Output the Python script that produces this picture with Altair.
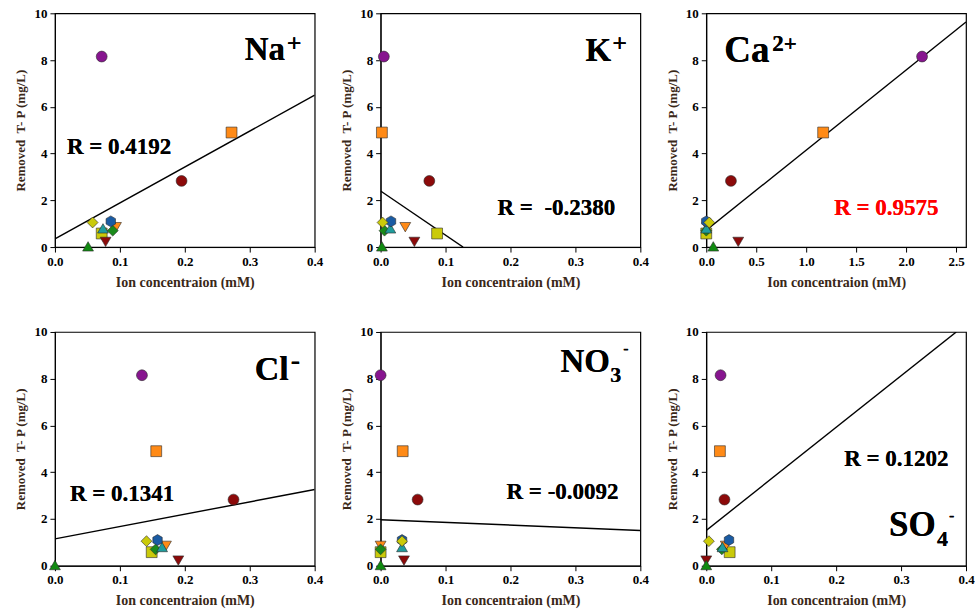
import altair as alt
import pandas as pd

# ---------------- data ----------------
samples = ["S9", "S6", "S8", "S7", "S5", "S4", "S10", "S11", "S3", "S2", "S1"]
tp_removed = [0.58, 0.85, 0.70, 0.80, 1.10, 1.05, 0.22, 0.03, 2.83, 4.90, 8.15]

na_conc = [0.072, 0.094, 0.089, 0.074, 0.086, 0.058, 0.078, 0.051, 0.195, 0.272, 0.072]
k_conc = [0.087, 0.038, 0.006, 0.015, 0.016, 0.003, 0.052, 0.002, 0.075, 0.002, 0.005]
ca_conc = [0.00, 0.01, 0.00, 0.00, 0.00, 0.03, 0.32, 0.07, 0.247, 1.17, 2.16]
cl_conc = [0.149, 0.171, 0.155, 0.165, 0.158, 0.141, 0.190, 0.000, 0.275, 0.156, 0.134]
no3_conc = [0.000, 0.000, 0.000, 0.033, 0.033, 0.033, 0.036, 0.000, 0.057, 0.034, 0.000]
so4_conc = [0.036, 0.030, 0.024, 0.025, 0.035, 0.004, 0.000, 0.000, 0.028, 0.021, 0.022]

# regression lines (endpoints)
na_line_x, na_line_y = [0.0, 0.4], [0.35, 6.5]
k_line_x, k_line_y = [0.0, 0.127], [2.4, 0.0]
ca_line_x, ca_line_y = [0.0, 2.6], [0.72, 9.63]
cl_line_x, cl_line_y = [0.0, 0.4], [1.15, 3.26]
no3_line_x, no3_line_y = [0.0, 0.4], [1.97, 1.51]
so4_line_x, so4_line_y = [0.0, 0.385], [1.51, 10.0]

r_labels = ["R = 0.4192", "R =\u00a0 -0.2380", "R = 0.9575",
            "R = 0.1341", "R = -0.0092", "R = 0.1202"]

x_ticks_small = [0.0, 0.1, 0.2, 0.3, 0.4]
x_ticks_ca = [0.0, 0.5, 1.0, 1.5, 2.0, 2.5]
y_ticks = [0, 2, 4, 6, 8, 10]

# ---------------- styles ----------------
hexagon = "M0,-1L0.866,-0.5L0.866,0.5L0,1L-0.866,0.5L-0.866,-0.5Z"
shape_of = {"S1": "circle", "S2": "square", "S3": "circle", "S4": "diamond",
            "S5": hexagon, "S6": "triangle-down", "S7": "triangle-up",
            "S8": "diamond", "S9": "square", "S10": "triangle-down",
            "S11": "triangle-up"}
color_of = {"S1": "#87158f", "S2": "#ff8a16", "S3": "#8c0a0a", "S4": "#caca0a",
            "S5": "#1a5ba3", "S6": "#ff8a16", "S7": "#1f9c9c", "S8": "#1a8a1a",
            "S9": "#caca0a", "S10": "#8c0a0a", "S11": "#108a10"}

FONT = "Liberation Serif"
TITLE_COLOR = "#3a2818"
W, H = 260, 234


def panel(xvals, line_x, line_y, xdomain, xticks, rlabel, rpos, rcolor, ion_parts):
    pts_df = pd.DataFrame({"x": xvals, "y": tp_removed, "s": samples})
    line_df = pd.DataFrame({"x": line_x, "y": line_y})
    xscale = alt.Scale(domain=xdomain, nice=False, zero=False)
    yscale = alt.Scale(domain=[0, 10], nice=False)
    xaxis = alt.Axis(values=xticks, format=".1f", title="Ion concentraion (mM)",
                     labelFontSize=13, titleFontSize=14, titlePadding=7)
    yaxis = alt.Axis(values=y_ticks, format="d", title="Removed\u00a0 T- P (mg/L)",
                     labelFontSize=13, titleFontSize=13, titlePadding=6)
    line = alt.Chart(line_df).mark_line(color="black", strokeWidth=1.4, clip=True).encode(
        x=alt.X("x:Q", scale=xscale, axis=xaxis),
        y=alt.Y("y:Q", scale=yscale, axis=yaxis),
    )
    pts = alt.Chart(pts_df).mark_point(filled=True, size=118, opacity=1,
                                       stroke="#2a2a2a", strokeWidth=0.6).encode(
        x=alt.X("x:Q", scale=xscale, axis=xaxis),
        y=alt.Y("y:Q", scale=yscale, axis=yaxis),
        shape=alt.Shape("s:N", scale=alt.Scale(domain=list(shape_of),
                                               range=list(shape_of.values())), legend=None),
        fill=alt.Fill("s:N", scale=alt.Scale(domain=list(color_of),
                                             range=list(color_of.values())), legend=None),
    )
    layers = [line, pts]
    rx, ry = rpos
    layers.append(alt.Chart(line_df).mark_text(
        text=rlabel, font=FONT, fontWeight="bold", fontSize=23, color=rcolor,
        align="left", baseline="alphabetic").encode(x=alt.value(rx), y=alt.value(ry)))
    for txt, tx, ty, fs in ion_parts:
        layers.append(alt.Chart(line_df).mark_text(
            text=txt, font=FONT, fontWeight="bold", fontSize=fs, color="black",
            align="left", baseline="alphabetic").encode(x=alt.value(tx), y=alt.value(ty)))
    return alt.layer(*layers).properties(width=W, height=H)


p_na = panel(na_conc, na_line_x, na_line_y, [0, 0.4], x_ticks_small, r_labels[0],
             (12, 141), "black", [("Na", 190, 47, 33), ("+", 232, 39, 26)])
p_k = panel(k_conc, k_line_x, k_line_y, [0, 0.4], x_ticks_small, r_labels[1],
            (117, 202), "black", [("K", 205, 48, 33), ("+", 232, 39, 26)])
p_ca = panel(ca_conc, ca_line_x, ca_line_y, [0, 2.6], x_ticks_ca, r_labels[2],
             (128, 202), "#ff0000", [("Ca", 18, 49, 37), ("2+", 66, 38, 23)])
p_cl = panel(cl_conc, cl_line_x, cl_line_y, [0, 0.4], x_ticks_small, r_labels[3],
             (15, 169), "black", [("Cl", 200, 48, 34), ("-", 236, 37, 28)])
p_no3 = panel(no3_conc, no3_line_x, no3_line_y, [0, 0.4], x_ticks_small, r_labels[4],
              (126, 167), "black", [("NO", 180, 40, 33), ("3", 230, 50, 22), ("-", 243, 22, 16)])
p_so4 = panel(so4_conc, so4_line_x, so4_line_y, [0, 0.4], x_ticks_small, r_labels[5],
              (138, 134), "black", [("SO", 183, 204, 35), ("4", 231, 214, 22), ("-", 243, 189, 16)])

chart = alt.concat(p_na, p_k, p_ca, p_cl, p_no3, p_so4, columns=3,
                   spacing={"row": 85, "column": 66}, bounds="flush").properties(
    padding={"left": 14, "top": 6, "right": 0, "bottom": 0}
).configure_view(stroke="black", strokeWidth=1.2).configure_axis(
    grid=False, tickSize=5, labelPadding=3, labelFlush=False,
    labelFont=FONT, labelFontWeight="bold", labelColor="black",
    titleFont=FONT, titleFontWeight="bold", titleColor=TITLE_COLOR,
    domainColor="black", tickColor="black"
)

chart.save("out.html", embed_options={"renderer": "svg", "actions": False})
